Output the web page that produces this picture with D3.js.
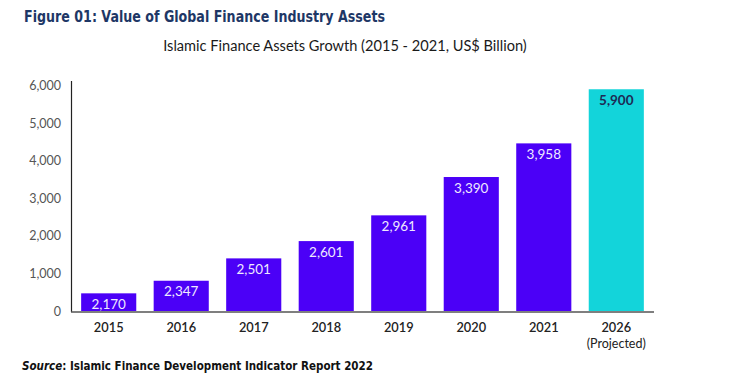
<!DOCTYPE html>
<html>
<head>
<meta charset="utf-8">
<script src="https://cdn.jsdelivr.net/npm/d3@7"></script>
<style>
  body { margin: 0; background: #fff; }
  svg { display: block; }
</style>
</head>
<body>
<svg id="chart" width="750" height="378"></svg>
<script>
// data
const years = ["2015", "2016", "2017", "2018", "2019", "2020", "2021", "2026"];
const barHeights = [470, 805, 1400, 1860, 2545, 3565, 4460, 5900]; // drawn height of each bar
const barLabels = ["2,170", "2,347", "2,501", "2,601", "2,961", "3,390", "3,958", "5,900"];
const yTicks = [0, 1000, 2000, 3000, 4000, 5000, 6000];

const svg = d3.select("#chart");

const x = d3.scaleBand()
    .domain(years)
    .range([71, 654])
    .paddingInner(0.24)
    .paddingOuter(0.14);

const y = d3.scaleLinear()
    .domain([0, 6000])
    .range([311, 85.5]);

// titles
svg.append("text")
    .attr("x", 24).attr("y", 22)
    .attr("font-family", "DejaVu Sans Condensed, DejaVu Sans")
    .attr("font-weight", "bold")
    .attr("font-size", 15.5)
    .attr("textLength", 361)
    .attr("lengthAdjust", "spacingAndGlyphs")
    .attr("fill", "#1e3766")
    .text("Figure 01: Value of Global Finance Industry Assets");

svg.append("text")
    .attr("x", 345).attr("y", 51)
    .attr("text-anchor", "middle")
    .attr("font-family", "Lato, sans-serif")
    .attr("font-size", 14.6)
    .attr("fill", "#1a1a1a")
    .text("Islamic Finance Assets Growth (2015 - 2021, US$ Billion)");

// y axis
const yAxis = svg.append("g")
    .attr("transform", "translate(71,0)")
    .call(d3.axisLeft(y).tickValues(yTicks).tickFormat(d3.format(",")).tickSize(0).tickPadding(10));
yAxis.select(".domain").remove();
yAxis.selectAll("text")
    .attr("font-family", "Lato, sans-serif")
    .attr("font-size", 12.5)
    .attr("fill", "#555");

svg.append("line")
    .attr("x1", 71.5).attr("x2", 71.5)
    .attr("y1", 81).attr("y2", 312)
    .attr("stroke", "#222").attr("stroke-width", 1.2);

// bars
const bars = svg.append("g").selectAll("g")
    .data(years)
    .join("g");

bars.append("rect")
    .attr("x", d => x(d))
    .attr("width", x.bandwidth())
    .attr("y", (d, i) => y(barHeights[i]))
    .attr("height", (d, i) => y(0) - y(barHeights[i]))
    .attr("fill", (d, i) => i === years.length - 1 ? "#13d4da" : "#4b00f7");

bars.append("text")
    .attr("x", d => x(d) + x.bandwidth() / 2)
    .attr("y", (d, i) => y(barHeights[i]) + 15.5)
    .attr("text-anchor", "middle")
    .attr("font-family", "Lato, sans-serif")
    .attr("font-size", 13.5)
    .attr("fill", (d, i) => i === years.length - 1 ? "#1d2b55" : "#efe9ff")
    .attr("font-weight", (d, i) => i === years.length - 1 ? "bold" : "normal")
    .text((d, i) => barLabels[i]);

// x axis
const xAxis = svg.append("g")
    .attr("transform", "translate(0,312)")
    .call(d3.axisBottom(x).tickSize(0).tickPadding(11));
xAxis.select(".domain")
    .attr("d", "M71,0H654")
    .attr("stroke", "#555").attr("stroke-width", 1.5);
xAxis.selectAll("text")
    .attr("font-family", "Lato, sans-serif")
    .attr("font-weight", "600")
    .attr("font-size", 12.8)
    .attr("fill", "#222");

svg.append("text")
    .attr("x", x("2026") + x.bandwidth() / 2).attr("y", 347.5)
    .attr("text-anchor", "middle")
    .attr("font-family", "Lato, sans-serif")
    .attr("font-size", 12.5)
    .attr("fill", "#222")
    .text("(Projected)");

// source note
const src = svg.append("text")
    .attr("x", 22).attr("y", 370)
    .attr("font-family", "DejaVu Sans Condensed, DejaVu Sans")
    .attr("font-weight", "bold")
    .attr("font-size", 12.3)
    .attr("textLength", 351)
    .attr("lengthAdjust", "spacingAndGlyphs")
    .attr("fill", "#111");
src.append("tspan").attr("font-style", "italic").text("Source");
src.append("tspan").text(": Islamic Finance Development Indicator Report 2022");
</script>
</body>
</html>
